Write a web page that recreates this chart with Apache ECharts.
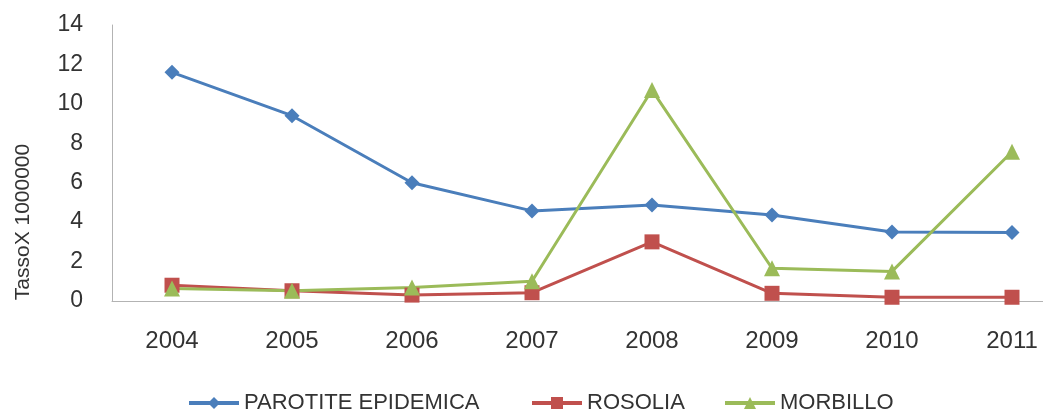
<!DOCTYPE html>
<html>
<head>
<meta charset="utf-8">
<script src="https://cdn.jsdelivr.net/npm/echarts@6/dist/echarts.min.js"></script>
<style>
  html, body { margin: 0; padding: 0; background: #fff; overflow: hidden; }
  /* the plot runs past the right edge of the window, so the last year sits near the border */
  #chart { width: 1080px; height: 409px; }
</style>
</head>
<body>
<div id="chart"></div>
<script>
// Tassi per 100000 abitanti, 2004-2011
const years = ['2004', '2005', '2006', '2007', '2008', '2009', '2010', '2011'];
const parotite = [11.6, 9.4, 6.0, 4.57, 4.87, 4.36, 3.5, 3.47];
const rosolia = [0.8, 0.52, 0.3, 0.42, 3.0, 0.39, 0.19, 0.19];
const morbillo = [0.64, 0.52, 0.68, 1.0, 10.7, 1.66, 1.5, 7.57];
const yTicks = { min: 0, max: 14, interval: 2 };
const seriesNames = ['PAROTITE EPIDEMICA', 'ROSOLIA', 'MORBILLO'];

const font = '"Liberation Sans", Arial, sans-serif';
const textColor = '#333333';

function line(name, data, color, symbol, size) {
  return {
    name: name,
    type: 'line',
    data: data,
    symbol: symbol,
    symbolSize: size,
    lineStyle: { color: color, width: 3 },
    itemStyle: { color: color },
    animation: false
  };
}

function legendFor(name, left) {
  return {
    data: [name],
    left: left,
    top: 387,
    itemWidth: 50,
    itemHeight: 15,
    itemGap: 0,
    lineStyle: { width: 4 },
    textStyle: { fontFamily: font, fontSize: 22, color: textColor }
  };
}

const chart = echarts.init(document.getElementById('chart'));
chart.setOption({
  backgroundColor: '#fff',
  grid: { left: 112, top: 25, bottom: 108, right: 8 },
  legend: [
    legendFor(seriesNames[0], 182),
    legendFor(seriesNames[1], 525),
    legendFor(seriesNames[2], 718)
  ],
  graphic: [{
    type: 'text',
    x: 23,
    y: 222,
    rotation: Math.PI / 2,
    style: {
      text: 'TassoX 1000000',
      font: '21px ' + font,
      fill: textColor,
      align: 'center',
      verticalAlign: 'middle'
    }
  }],
  xAxis: {
    type: 'category',
    data: years,
    boundaryGap: true,
    axisLine: { lineStyle: { color: '#b3b3b3', width: 1 } },
    axisTick: { show: false },
    axisLabel: { fontFamily: font, fontSize: 24, color: textColor, margin: 28 }
  },
  yAxis: {
    type: 'value',
    min: yTicks.min,
    max: yTicks.max,
    interval: yTicks.interval,
    axisLine: { show: true, lineStyle: { color: '#b3b3b3', width: 1 } },
    axisTick: { show: false },
    splitLine: { show: false },
    axisLabel: { fontFamily: font, fontSize: 23, color: textColor, margin: 29 }
  },
  series: [
    line(seriesNames[0], parotite, '#4a7ebb', 'diamond', 15),
    line(seriesNames[1], rosolia, '#c0504d', 'rect', 15),
    line(seriesNames[2], morbillo, '#9bbb59', 'triangle', 16)
  ]
});
</script>
</body>
</html>
